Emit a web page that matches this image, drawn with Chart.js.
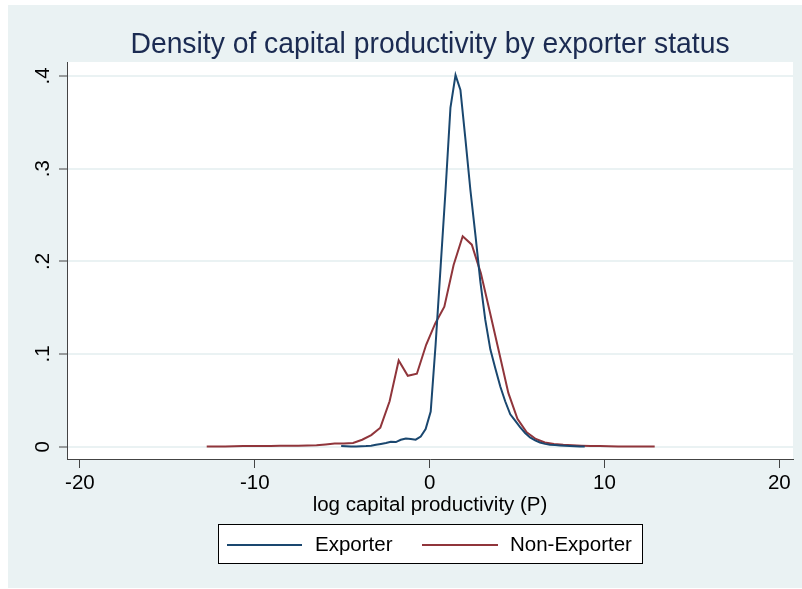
<!DOCTYPE html>
<html>
<head>
<meta charset="utf-8">
<script src="https://cdn.jsdelivr.net/npm/chart.js@4/dist/chart.umd.min.js"></script>
<style>
  html, body { margin: 0; padding: 0; background: #ffffff; }
  canvas { display: block; }
</style>
</head>
<body>
<canvas id="chart" width="802" height="589"></canvas>
<script>
// Kernel density estimates of log capital productivity, by exporter status
const exporterX = [-5.06, -4.78, -4.49, -4.21, -3.92, -3.64, -3.35, -3.07, -2.79, -2.50,
  -2.22, -1.93, -1.65, -1.36, -1.08, -0.80, -0.51, -0.23, 0.06, 0.34,
  0.63, 0.91, 1.19, 1.48, 1.76, 2.05, 2.33, 2.62, 2.90, 3.18,
  3.47, 3.75, 4.04, 4.32, 4.61, 4.89, 5.17, 5.46, 5.74, 6.03,
  6.31, 6.60, 6.88, 7.17, 7.45, 7.73, 8.02, 8.30, 8.59, 8.87];
const exporterY = [0.0008, 0.0005, 0.0003, 0.0003, 0.0004, 0.0006, 0.0011, 0.0020, 0.0030, 0.0040,
  0.0052, 0.0050, 0.0075, 0.0088, 0.0082, 0.0076, 0.0110, 0.0190, 0.0380, 0.1100,
  0.1950, 0.2770, 0.3660, 0.4010, 0.3850, 0.3310, 0.2770, 0.2280, 0.1780, 0.1370,
  0.1050, 0.0850, 0.0650, 0.0490, 0.0350, 0.0280, 0.0210, 0.0148, 0.0100, 0.0068,
  0.0045, 0.0030, 0.0022, 0.0017, 0.0013, 0.0010, 0.0007, 0.0005, 0.0003, 0.0002];

const nonExporterX = [-12.75, -12.23, -11.70, -11.18, -10.66, -10.14, -9.61, -9.09, -8.57, -8.04,
  -7.52, -7.00, -6.47, -5.95, -5.43, -4.91, -4.38, -3.86, -3.34, -2.82,
  -2.29, -1.77, -1.25, -0.73, -0.20, 0.32, 0.84, 1.37, 1.89, 2.41,
  2.93, 3.46, 3.98, 4.50, 5.02, 5.55, 6.07, 6.59, 7.11, 7.64,
  8.16, 8.68, 9.21, 9.73, 10.25, 10.78, 11.30, 11.82, 12.34, 12.87];
const nonExporterY = [0.0002, 0.0002, 0.0003, 0.0005, 0.0007, 0.0008, 0.0008, 0.0008, 0.0009, 0.0009,
  0.0010, 0.0012, 0.0016, 0.0024, 0.0033, 0.0035, 0.0040, 0.0075, 0.0125, 0.0205,
  0.0490, 0.0930, 0.0765, 0.0787, 0.1100, 0.1330, 0.1510, 0.1960, 0.2270, 0.2180,
  0.1870, 0.1440, 0.1010, 0.0580, 0.0300, 0.0155, 0.0083, 0.0045, 0.0030, 0.0020,
  0.0015, 0.0011, 0.0008, 0.0006, 0.0004, 0.0003, 0.0002, 0.0002, 0.0002, 0.0002];

const seriesNames = ['Exporter', 'Non-Exporter'];
const chartTitle = 'Density of capital productivity by exporter status';
const xAxisTitle = 'log capital productivity (P)';
const xTickValues = [-20, -10, 0, 10, 20];
const xTickLabels = ['-20', '-10', '0', '10', '20'];
const yTickValues = [0, 0.1, 0.2, 0.3, 0.4];
const yTickLabels = ['0', '.1', '.2', '.3', '.4'];

const FONT = '"Liberation Sans", Arial, Helvetica, sans-serif';
const NAVY = '#1a476f';
const MAROON = '#90353b';
const BG = '#eaf2f3';

function pairs(xs, ys) { return xs.map((x, i) => ({ x: x, y: ys[i] })); }

// Outer graph region, white plot region and the title centred over the plot
const backdrop = {
  id: 'backdrop',
  beforeDraw(chart) {
    const { ctx, chartArea: a } = chart;
    ctx.save();
    ctx.fillStyle = '#ffffff';
    ctx.fillRect(0, 0, chart.width, chart.height);
    ctx.fillStyle = BG;
    ctx.fillRect(8, 5, chart.width - 8, chart.height - 6);
    ctx.fillStyle = '#ffffff';
    ctx.fillRect(a.left, a.top, a.right - a.left, a.bottom - a.top);

    // slightly condensed title face
    ctx.translate((a.left + a.right) / 2, 45);
    ctx.scale(0.943, 1);
    ctx.font = '30px ' + FONT;
    ctx.fillStyle = '#1b2b52';
    ctx.textAlign = 'center';
    ctx.textBaseline = 'middle';
    ctx.fillText(chartTitle, 0, 0);
    ctx.restore();
  }
};

// Boxed legend below the axis title
const boxedLegend = {
  id: 'boxedLegend',
  afterDraw(chart) {
    const { ctx } = chart;
    const box = { x: 218.5, y: 524.5, w: 424, h: 39 };
    const midY = 545;
    ctx.save();
    ctx.fillStyle = '#ffffff';
    ctx.fillRect(box.x, box.y, box.w, box.h);
    ctx.strokeStyle = '#000000';
    ctx.lineWidth = 1;
    ctx.strokeRect(box.x, box.y, box.w, box.h);
    const items = [
      { x0: 227, x1: 302, tx: 315 },
      { x0: 422, x1: 498, tx: 510 }
    ];
    ctx.font = '20.5px ' + FONT;
    ctx.textBaseline = 'middle';
    ctx.textAlign = 'left';
    items.forEach((it, i) => {
      const ds = chart.data.datasets[i];
      ctx.strokeStyle = ds.borderColor;
      ctx.lineWidth = 2;
      ctx.beginPath();
      ctx.moveTo(it.x0, midY);
      ctx.lineTo(it.x1, midY);
      ctx.stroke();
      ctx.fillStyle = '#000000';
      ctx.fillText(ds.label, it.tx, midY);
    });
    ctx.restore();
  }
};

new Chart(document.getElementById('chart'), {
  type: 'line',
  data: {
    datasets: [
      {
        label: seriesNames[0],
        data: pairs(exporterX, exporterY),
        borderColor: NAVY,
        borderWidth: 2,
        pointRadius: 0,
        tension: 0,
        fill: false
      },
      {
        label: seriesNames[1],
        data: pairs(nonExporterX, nonExporterY),
        borderColor: MAROON,
        borderWidth: 2,
        pointRadius: 0,
        tension: 0,
        fill: false
      }
    ]
  },
  options: {
    responsive: false,
    animation: false,
    devicePixelRatio: 1,
    layout: { padding: { left: 0, right: 9, top: 62, bottom: 0 } },
    plugins: {
      legend: { display: false },
      tooltip: { enabled: false },
      title: { display: false }
    },
    scales: {
      x: {
        type: 'linear',
        min: -20.74,
        max: 20.78,
        afterBuildTicks(scale) { scale.ticks = xTickValues.map(v => ({ value: v })); },
        afterFit(scale) { scale.height = 130; },
        ticks: {
          color: '#000000',
          font: { family: FONT, size: 20.5 },
          padding: 3,
          maxRotation: 0,
          minRotation: 0,
          callback: (v) => xTickLabels[xTickValues.indexOf(v)]
        },
        grid: {
          drawOnChartArea: false,
          drawTicks: true,
          tickLength: 9,
          tickColor: '#444444',
          tickWidth: 1
        },
        border: { display: true, color: '#444444', width: 1 },
        title: {
          display: true,
          text: xAxisTitle,
          color: '#000000',
          font: { family: FONT, size: 20.5, lineHeight: 1.2 },
          padding: { top: 0, bottom: 71.7 }
        }
      },
      y: {
        type: 'linear',
        min: -0.0133,
        max: 0.4151,
        afterBuildTicks(scale) { scale.ticks = yTickValues.map(v => ({ value: v })); },
        afterFit(scale) { scale.width = 67; },
        ticks: {
          color: '#000000',
          font: { family: FONT, size: 20.5 },
          padding: 7.5,
          minRotation: 90,
          maxRotation: 90,
          crossAlign: 'center',
          callback: (v) => yTickLabels[yTickValues.indexOf(v)]
        },
        grid: {
          drawOnChartArea: true,
          color: BG,
          lineWidth: 2,
          drawTicks: true,
          tickLength: 8,
          tickColor: '#444444',
          tickWidth: 1
        },
        border: { display: true, color: '#444444', width: 1 }
      }
    }
  },
  plugins: [backdrop, boxedLegend]
});
</script>
</body>
</html>
